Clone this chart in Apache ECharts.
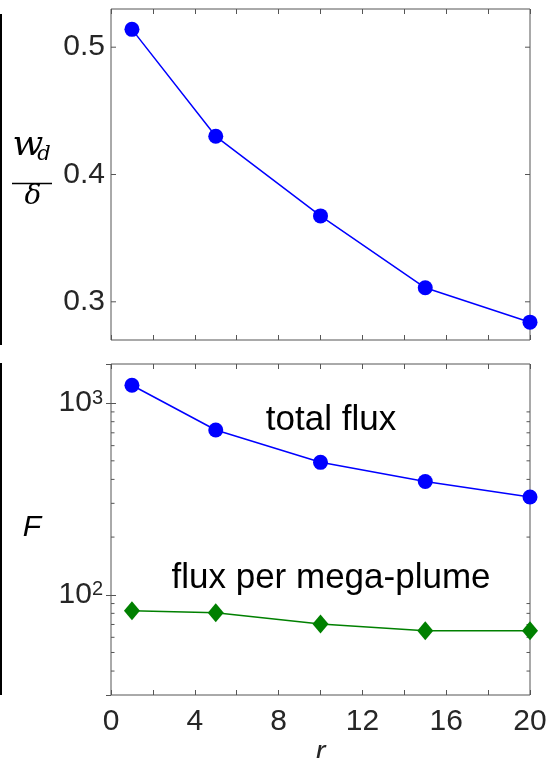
<!DOCTYPE html>
<html>
<head>
<meta charset="utf-8">
<script src="https://cdn.jsdelivr.net/npm/echarts@6/dist/echarts.min.js"></script>
<style>
  html, body { margin: 0; padding: 0; background: #ffffff; }
  #main { width: 548px; height: 758px; }
</style>
</head>
<body>
<div id="main"></div>
<script>
// data
var rVals = [1, 5, 10, 15, 20];
var widthVals = [0.514, 0.430, 0.3675, 0.311, 0.284];   // w_d / delta
var totalFlux = [1240, 724, 491, 390, 324];
var plumeFlux = [82.6, 80.6, 70.5, 65, 65];

// tick values
var topMajorTicks = [0.3, 0.4, 0.5];
var logMinorTicks = [40, 50, 60, 70, 80, 90, 200, 300, 400, 500, 600, 700, 800, 900];

var axisColor = '#555555';
var textColor = '#262626';
var font = '"Liberation Sans", Arial, sans-serif';

var myChart = echarts.init(document.getElementById('main'));

// tick marks drawn on both left and right edges of a grid
function sideTicks(len) {
    return function (params, api) {
        var y = api.coord([api.value(0), api.value(1)])[1];
        var cs = params.coordSys;
        return {
            type: 'group',
            children: [
                { type: 'line', shape: { x1: cs.x, y1: y, x2: cs.x + len, y2: y }, style: { stroke: axisColor, lineWidth: 1 } },
                { type: 'line', shape: { x1: cs.x + cs.width, y1: y, x2: cs.x + cs.width - len, y2: y }, style: { stroke: axisColor, lineWidth: 1 } }
            ]
        };
    };
}

function xAxisBase(gridIndex, position, showLabels) {
    return {
        type: 'value',
        gridIndex: gridIndex,
        position: position,
        min: 0,
        max: 20,
        interval: 2,
        axisLine: { show: false },
        axisTick: { show: true, inside: true, length: 5, lineStyle: { color: axisColor } },
        splitLine: { show: false },
        axisLabel: {
            show: showLabels,
            margin: 12,
            color: textColor,
            fontSize: 30,
            fontFamily: font,
            formatter: function (v) { return v % 4 === 0 ? String(v) : ''; }
        }
    };
}

function logAxis(position, showLabels) {
    return {
        type: 'log',
        logBase: 10,
        gridIndex: 1,
        position: position,
        min: 30,
        max: 1600,
        axisLine: { show: false },
        axisTick: { show: true, inside: true, length: 5, lineStyle: { color: axisColor } },
        splitLine: { show: false },
        axisLabel: {
            show: showLabels,
            margin: 8,
            showMinLabel: false,
            showMaxLabel: false,
            formatter: function (v) {
                var e = Math.round(Math.log10(v));
                return '{b|10}{s|' + e + '}';
            },
            rich: {
                b: { fontSize: 30, color: textColor, fontFamily: font },
                s: { fontSize: 20, color: textColor, fontFamily: font, verticalAlign: 'top' }
            }
        }
    };
}

myChart.setOption({
    animation: false,
    backgroundColor: '#ffffff',
    grid: [
        { left: 111, right: 18, top: 9, height: 331, show: true, borderColor: axisColor, borderWidth: 1, outerBoundsMode: 'none', containLabel: false },
        { left: 111, right: 18, top: 364, height: 331, show: true, borderColor: axisColor, borderWidth: 1, outerBoundsMode: 'none', containLabel: false }
    ],
    xAxis: [
        xAxisBase(0, 'bottom', false),
        xAxisBase(0, 'top', false),
        Object.assign(xAxisBase(1, 'bottom', true), {
            name: 'r',
            nameLocation: 'middle',
            nameGap: 37,
            nameTextStyle: { fontSize: 30, fontStyle: 'italic', color: textColor, fontFamily: font }
        }),
        xAxisBase(1, 'top', false)
    ],
    yAxis: [
        {
            type: 'value',
            gridIndex: 0,
            min: 0.27,
            max: 0.53,
            interval: 0.01,
            axisLine: { show: false },
            axisTick: { show: false },
            splitLine: { show: false },
            axisLabel: {
                margin: 6,
                color: textColor,
                fontSize: 30,
                fontFamily: font,
                formatter: function (v) {
                    var t = Math.round(v * 100);
                    return t % 10 === 0 ? (t / 100).toFixed(1) : '';
                }
            }
        },
        logAxis('left', true),
        logAxis('right', false)
    ],
    series: [
        {
            type: 'line',
            xAxisIndex: 0,
            yAxisIndex: 0,
            data: rVals.map(function (r, i) { return [r, widthVals[i]]; }),
            symbol: 'circle',
            symbolSize: 15,
            clip: false,
            itemStyle: { color: '#0000ff' },
            lineStyle: { color: '#0000ff', width: 1.5 }
        },
        {
            type: 'line',
            xAxisIndex: 2,
            yAxisIndex: 1,
            data: rVals.map(function (r, i) { return [r, totalFlux[i]]; }),
            symbol: 'circle',
            symbolSize: 15,
            clip: false,
            itemStyle: { color: '#0000ff' },
            lineStyle: { color: '#0000ff', width: 1.5 }
        },
        {
            type: 'line',
            xAxisIndex: 2,
            yAxisIndex: 1,
            data: rVals.map(function (r, i) { return [r, plumeFlux[i]]; }),
            symbol: 'diamond',
            symbolSize: [16, 19],
            clip: false,
            itemStyle: { color: '#008000' },
            lineStyle: { color: '#008000', width: 1.5 }
        },
        {
            type: 'custom',
            xAxisIndex: 0,
            yAxisIndex: 0,
            silent: true,
            renderItem: sideTicks(5),
            data: topMajorTicks.map(function (v) { return [0, v]; })
        },
        {
            type: 'custom',
            xAxisIndex: 2,
            yAxisIndex: 1,
            silent: true,
            renderItem: sideTicks(3.5),
            data: logMinorTicks.map(function (v) { return [0, v]; })
        }
    ],
    graphic: [
        // black edge strips at the far left
        { type: 'rect', shape: { x: 0, y: 14, width: 2, height: 331 }, style: { fill: '#000000' } },
        { type: 'rect', shape: { x: 0, y: 363, width: 2, height: 332 }, style: { fill: '#000000' } },
        // y label top: w_d / delta
        { type: 'text', x: 28, y: 146, style: { text: 'w', fontSize: 36, fontStyle: 'italic', fontFamily: '"DejaVu Serif", serif', fill: '#000', align: 'center', verticalAlign: 'middle' } },
        { type: 'text', x: 44, y: 155, style: { text: 'd', fontSize: 21, fontStyle: 'italic', fontFamily: '"DejaVu Serif", serif', fill: '#000', align: 'center', verticalAlign: 'middle' } },
        { type: 'line', shape: { x1: 12, y1: 183.5, x2: 52, y2: 183.5 }, style: { stroke: '#000', lineWidth: 1.5 } },
        { type: 'text', x: 33, y: 197, style: { text: 'δ', fontSize: 28, fontStyle: 'italic', fontFamily: '"DejaVu Serif", serif', fill: '#000', align: 'center', verticalAlign: 'middle' } },
        // y label bottom: F
        { type: 'text', x: 32, y: 528, style: { text: 'F', fontSize: 30, fontStyle: 'italic', fontFamily: font, fill: '#000', align: 'center', verticalAlign: 'middle' } },
        // annotations
        { type: 'text', x: 331, y: 420, style: { text: 'total flux', fontSize: 35, fontFamily: font, fill: '#000', align: 'center', verticalAlign: 'middle' } },
        { type: 'text', x: 331, y: 578, style: { text: 'flux per mega-plume', fontSize: 35, fontFamily: font, fill: '#000', align: 'center', verticalAlign: 'middle' } }
    ]
});
</script>
</body>
</html>
